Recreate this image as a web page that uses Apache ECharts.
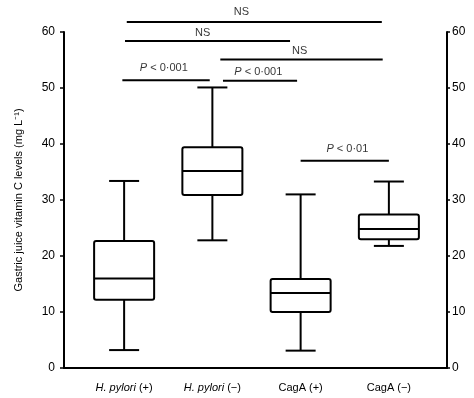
<!DOCTYPE html>
<html>
<head>
<meta charset="utf-8">
<script src="https://cdn.jsdelivr.net/npm/echarts@6/dist/echarts.min.js"></script>
<style>
  html, body { margin: 0; padding: 0; background: #fff; }
  #chart { width: 474px; height: 398px; }
</style>
</head>
<body>
<div id="chart"></div>
<script>
// groups on the x axis
const groups = ['H. pylori (+)', 'H. pylori (−)', 'CagA (+)', 'CagA (−)'];
// box values: min, Q1, median, Q3, max (mg/L)
const boxMin = [3.2, 22.8, 3.1, 21.8];
const boxQ1 = [12.2, 30.9, 10.0, 23.0];
const boxMedian = [16.0, 35.2, 13.4, 24.8];
const boxQ3 = [22.7, 39.4, 15.9, 27.4];
const boxMax = [33.4, 50.1, 31.0, 33.3];
const yTicks = [0, 10, 20, 30, 40, 50, 60];

// significance bars: start group, end group, level, label
const sigStart = [0.03, 0.01, 1.09, -0.02, 1.12, 2.0];
const sigEnd = [2.92, 1.88, 2.93, 0.97, 1.96, 3.0];
const sigLevel = [61.8, 58.4, 55.1, 51.4, 51.3, 37.0];
const sigText = ['NS', 'NS', 'NS', '{i|P} < 0·001', '{i|P} < 0·001', '{i|P} < 0·01'];
const sigTextX = [1.33, 0.89, 1.99, 0.45, 1.52, 2.53];
const sigTextY = [63.5, 59.9, 56.6, 53.5, 52.8, 39.2];

const chart = echarts.init(document.getElementById('chart'));

const boxData = groups.map((g, i) => [i, boxMin[i], boxQ1[i], boxMedian[i], boxQ3[i], boxMax[i]]);
const barData = sigStart.map((s, i) => [s, sigEnd[i], sigLevel[i]]);
const textData = sigText.map((t, i) => [sigTextX[i], sigTextY[i], t]);

// the data grid goes higher than 60 so the bars above the boxes fit; same scale as the axes
const dataTop = 60 * 368 / 336;

const option = {
  animation: false,
  backgroundColor: '#fff',
  textStyle: { fontFamily: 'Liberation Sans, Arial, sans-serif' },
  grid: [
    { left: 64, right: 27, top: 32, bottom: 30 },
    { left: 80, right: 41, top: 0, bottom: 30 }
  ],
  xAxis: [
    {
      gridIndex: 0, type: 'value', min: 0, max: 1,
      axisLine: { show: true, onZero: false, lineStyle: { color: '#000', width: 2 } },
      axisTick: { show: false }, axisLabel: { show: false }, splitLine: { show: false }
    },
    {
      gridIndex: 1, type: 'category', data: groups,
      axisLine: { show: false }, axisTick: { show: false }, splitLine: { show: false },
      axisLabel: {
        interval: 0, margin: 14, fontSize: 11, color: '#000',
        formatter: v => v.startsWith('H. pylori') ? '{i|H. pylori}' + v.slice(9) : v,
        rich: { i: { fontStyle: 'italic', fontSize: 11, color: '#000' } }
      }
    },
    {
      gridIndex: 1, type: 'value', min: -0.5, max: 3.5, show: false
    }
  ],
  yAxis: [
    {
      gridIndex: 0, type: 'value', min: 0, max: 60, interval: 10, position: 'left',
      name: 'Gastric juice vitamin C levels (mg L⁻¹)', nameLocation: 'middle', nameGap: 40,
      nameTextStyle: { fontSize: 11, color: '#000' },
      axisLine: { show: true, lineStyle: { color: '#000', width: 2 } },
      axisTick: { show: true, length: 4, lineStyle: { color: '#000', width: 1.5 } },
      axisLabel: { margin: 9, fontSize: 12, color: '#000', formatter: v => yTicks.includes(v) ? v : '' },
      splitLine: { show: false }
    },
    {
      gridIndex: 0, type: 'value', min: 0, max: 60, interval: 10, position: 'right',
      axisLine: { show: true, lineStyle: { color: '#000', width: 2 } },
      axisTick: { show: true, length: 3, lineStyle: { color: '#000', width: 1.5 } },
      axisLabel: { margin: 5, fontSize: 12, color: '#000' },
      splitLine: { show: false }
    },
    {
      gridIndex: 1, type: 'value', min: 0, max: dataTop, show: false
    }
  ],
  series: [
    {
      type: 'custom',
      xAxisIndex: 1, yAxisIndex: 2,
      data: boxData,
      renderItem: function (params, api) {
        const x = api.value(0);
        const pMin = api.coord([x, api.value(1)]);
        const pQ1 = api.coord([x, api.value(2)]);
        const pMed = api.coord([x, api.value(3)]);
        const pQ3 = api.coord([x, api.value(4)]);
        const pMax = api.coord([x, api.value(5)]);
        const half = api.size([1, 0])[0] * 0.34;
        const cap = 15;
        const cx = pMed[0];
        const st = { stroke: '#000', lineWidth: 2, fill: null };
        return {
          type: 'group',
          children: [
            { type: 'line', shape: { x1: cx, y1: pMax[1], x2: cx, y2: pQ3[1] }, style: st },
            { type: 'line', shape: { x1: cx, y1: pQ1[1], x2: cx, y2: pMin[1] }, style: st },
            { type: 'line', shape: { x1: cx - cap, y1: pMax[1], x2: cx + cap, y2: pMax[1] }, style: st },
            { type: 'line', shape: { x1: cx - cap, y1: pMin[1], x2: cx + cap, y2: pMin[1] }, style: st },
            { type: 'rect', shape: { x: cx - half, y: pQ3[1], width: half * 2, height: pQ1[1] - pQ3[1], r: 2 },
              style: { stroke: '#000', lineWidth: 2, fill: '#fff' } },
            { type: 'line', shape: { x1: cx - half, y1: pMed[1], x2: cx + half, y2: pMed[1] }, style: st }
          ]
        };
      }
    },
    {
      type: 'custom',
      xAxisIndex: 2, yAxisIndex: 2,
      data: barData,
      renderItem: function (params, api) {
        const a = api.coord([api.value(0), api.value(2)]);
        const b = api.coord([api.value(1), api.value(2)]);
        return {
          type: 'line',
          shape: { x1: a[0], y1: a[1], x2: b[0], y2: b[1] },
          style: { stroke: '#000', lineWidth: 2 }
        };
      }
    },
    {
      type: 'scatter',
      xAxisIndex: 2, yAxisIndex: 2,
      symbolSize: 0,
      data: textData,
      label: {
        show: true, position: 'inside', fontSize: 11, color: '#000',
        formatter: p => p.data[2],
        rich: { i: { fontStyle: 'italic', fontSize: 11, color: '#000' } }
      }
    }
  ]
};

chart.setOption(option);
</script>
</body>
</html>
